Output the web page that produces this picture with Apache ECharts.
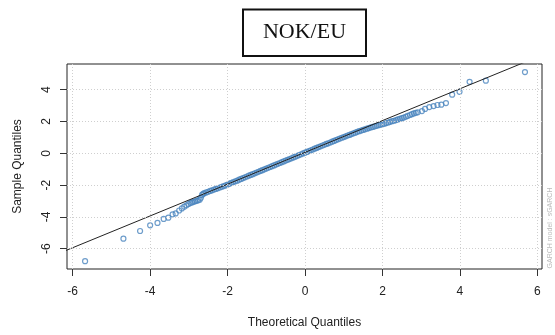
<!DOCTYPE html>
<html><head><meta charset="utf-8">
<script src="https://cdn.jsdelivr.net/npm/echarts@6/dist/echarts.min.js"></script>
<style>html,body{margin:0;padding:0;background:#fff}#c{width:555px;height:335px}</style>
</head><body><div id="c"></div>
<script>
const titleText = 'NOK/EU';
const sideText = 'GARCH model : sGARCH';
const xTicks = [-6, -4, -2, 0, 2, 4, 6];
const yTicks = [-6, -4, -2, 0, 2, 4];
const theoretical = [
  -5.68, -4.69, -4.26, -4.00, -3.81, -3.65, -3.53, -3.42, -3.34, -3.25, -3.18, -3.12, -3.06, -3.01, -2.96, -2.92, -2.88, -2.84, -2.80, -2.76, -2.72, -2.69, -2.66,
  -2.63, -2.60, -2.55, -2.50, -2.45, -2.40, -2.35, -2.30, -2.25, -2.20, -2.15, -2.10, -2.05, -2.00,
  -1.95, -1.90, -1.85, -1.80, -1.75, -1.70, -1.65, -1.60, -1.55, -1.50, -1.45, -1.40, -1.35, -1.30, -1.25, -1.20, -1.15, -1.10, -1.05, -1.00,
  -0.95, -0.90, -0.85, -0.80, -0.75, -0.70, -0.65, -0.60, -0.55, -0.50, -0.45, -0.40, -0.35, -0.30, -0.25, -0.20, -0.15, -0.10, -0.05, 0.00,
  0.05, 0.10, 0.15, 0.20, 0.25, 0.30, 0.35, 0.40, 0.45, 0.50, 0.55, 0.60, 0.65, 0.70, 0.75, 0.80, 0.85, 0.90, 0.95, 1.00,
  1.05, 1.10, 1.15, 1.20, 1.25, 1.30, 1.35, 1.40, 1.45, 1.50, 1.55, 1.60, 1.65, 1.70, 1.75, 1.80, 1.85, 1.90, 1.95, 2.00,
  2.05, 2.10, 2.15, 2.20, 2.25, 2.30, 2.35, 2.40, 2.45, 2.50, 2.55, 2.60, 2.65, 2.71, 2.76, 2.81, 2.86, 2.91,
  3.02, 3.10, 3.21, 3.32, 3.42, 3.52, 3.64, 3.80, 3.99, 4.25, 4.67, 5.68
];
const sample = [
  -6.79, -5.37, -4.89, -4.53, -4.38, -4.13, -4.05, -3.84, -3.78, -3.60, -3.47, -3.36, -3.27, -3.19, -3.13, -3.09, -3.05, -3.02, -2.99, -2.96, -2.92, -2.80, -2.62,
  -2.55, -2.51, -2.46, -2.42, -2.37, -2.33, -2.28, -2.24, -2.20, -2.15, -2.11, -2.06, -2.02, -1.97,
  -1.91, -1.86, -1.81, -1.76, -1.72, -1.66, -1.61, -1.56, -1.51, -1.46, -1.41, -1.36, -1.31, -1.26, -1.21, -1.16, -1.11, -1.06, -1.01, -0.96,
  -0.91, -0.86, -0.81, -0.76, -0.71, -0.66, -0.61, -0.56, -0.51, -0.46, -0.41, -0.36, -0.31, -0.26, -0.21, -0.16, -0.11, -0.06, -0.01, 0.04,
  0.09, 0.14, 0.19, 0.24, 0.29, 0.34, 0.39, 0.44, 0.49, 0.54, 0.59, 0.63, 0.68, 0.73, 0.78, 0.83, 0.88, 0.93, 0.98, 1.02,
  1.07, 1.12, 1.16, 1.21, 1.26, 1.30, 1.35, 1.39, 1.43, 1.47, 1.51, 1.55, 1.59, 1.63, 1.66, 1.70, 1.73, 1.77, 1.80, 1.83,
  1.86, 1.90, 1.94, 1.98, 2.02, 2.05, 2.09, 2.13, 2.17, 2.21, 2.25, 2.30, 2.35, 2.41, 2.46, 2.51, 2.55, 2.58,
  2.66, 2.79, 2.91, 2.97, 3.04, 3.06, 3.16, 3.69, 3.87, 4.50, 4.57, 5.11
];
const qqLineX = [-6.5, 6.5];
const qqLineY = [-6.44, 6.56];

const chart = echarts.init(document.getElementById('c'), null, {renderer: 'canvas'});
const font = 'Liberation Sans, Arial, sans-serif';
const points = theoretical.map((x, i) => [x, sample[i]]);
const gridMarks = xTicks.map(v => ({xAxis: v})).concat(yTicks.map(v => ({yAxis: v})));

chart.setOption({
  animation: false,
  backgroundColor: '#fff',
  grid: {left: 67, right: 13, top: 64, bottom: 66, show: true, borderColor: '#222', borderWidth: 1, backgroundColor: 'transparent'},
  xAxis: {
    type: 'value', min: -6.147, max: 6.12,
    axisLine: {show: false, onZero: false},
    splitLine: {show: false},
    axisTick: {show: true, customValues: xTicks, length: 7, inside: false, lineStyle: {color: '#333'}},
    axisLabel: {customValues: xTicks, margin: 17, fontSize: 12, fontFamily: font, color: '#222'},
    name: 'Theoretical Quantiles', nameLocation: 'middle', nameGap: 48,
    nameTextStyle: {fontSize: 12, fontFamily: font, color: '#222'}
  },
  yAxis: {
    type: 'value', min: -7.28, max: 5.62,
    axisLine: {show: false, onZero: false},
    splitLine: {show: false},
    axisTick: {show: true, customValues: yTicks, length: 7, inside: false, lineStyle: {color: '#333'}},
    axisLabel: {customValues: yTicks, margin: 14, rotate: 90, fontSize: 12, fontFamily: font, color: '#222'},
    name: 'Sample Quantiles', nameLocation: 'middle', nameGap: 43, nameRotate: 90,
    nameTextStyle: {fontSize: 12, fontFamily: font, color: '#222'}
  },
  series: [
    {
      type: 'line', data: [], silent: true, z: 1,
      markLine: {silent: true, symbol: 'none', label: {show: false}, animation: false,
        lineStyle: {type: [1, 2], color: '#cfcfcf', width: 1}, data: gridMarks}
    },
    {
      type: 'scatter', data: points, symbol: 'circle', symbolSize: 5, z: 3,
      itemStyle: {color: 'rgba(0,0,0,0)', borderColor: '#4a85be', borderWidth: 1.2}
    },
    {
      type: 'line', data: qqLineX.map((x, i) => [x, qqLineY[i]]), showSymbol: false, symbol: 'none', clip: true, z: 4,
      lineStyle: {color: '#222', width: 1}
    }
  ],
  graphic: [
    {type: 'rect', shape: {x: 243, y: 9.5, width: 123, height: 46.5},
      style: {fill: '#fff', stroke: '#111', lineWidth: 2}},
    {type: 'text', x: 304.5, y: 32, style: {text: titleText, font: '22px "Liberation Serif", "Times New Roman", serif', fill: '#111', align: 'center', verticalAlign: 'middle'}},
    {type: 'text', x: 550, y: 228, rotation: Math.PI / 2, style: {text: sideText, font: '7px "Liberation Sans", Arial, sans-serif', fill: '#bbb', align: 'center', verticalAlign: 'middle'}}
  ]
});
</script></body></html>
